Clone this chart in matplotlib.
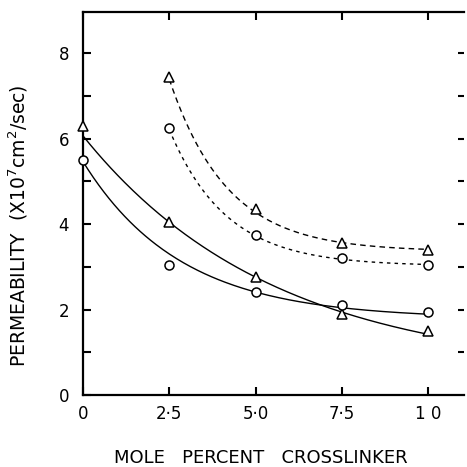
import numpy as np
import matplotlib.pyplot as plt

# Data points
crosslinker = np.array([0, 2.5, 5.0, 7.5, 10.0])
solid_tri = np.array([6.3, 4.05, 2.75, 1.9, 1.5])
solid_circ = np.array([5.5, 3.05, 2.4, 2.1, 1.95])

crosslinker_b = np.array([2.5, 5.0, 7.5, 10.0])
dashed_tri = np.array([7.45, 4.35, 3.55, 3.4])
dotted_circ = np.array([6.25, 3.75, 3.2, 3.05])

# hand-drawn trend curves
curve_x = np.array([0, 2.5, 5.0, 7.5, 10.0])
curve_tri = np.array([6.05, 4.08, 2.74, 1.9, 1.45])
curve_circ = np.array([5.45, 3.35, 2.35, 2.0, 1.95])
curve_x_b = np.array([2.5, 3.62, 5.0, 7.5, 10.0])
curve_dtri = np.array([7.4, 5.38, 4.33, 3.55, 3.4])
curve_dcirc = np.array([6.2, 4.68, 3.67, 3.2, 3.05])

xtick_vals = [0, 2.5, 5.0, 7.5, 10.0]
xtick_labels = ['0', '2·5', '5·0', '7·5', '1 0']
ytick_vals = [0, 2, 4, 6, 8]
ytick_labels = ['0', '2', '4', '6', '8']


def exp_fit(x, y):
    # least squares fit of y = a + b*exp(-c*x), grid search over c
    best = None
    for c in np.linspace(0.02, 2.0, 800):
        A = np.column_stack([np.ones_like(x), np.exp(-c * x)])
        coef, res, _, _ = np.linalg.lstsq(A, y, rcond=None)
        err = np.sum((A @ coef - y) ** 2)
        if best is None or err < best[0]:
            best = (err, coef[0], coef[1], c)
    _, a, b, c = best
    return lambda t: a + b * np.exp(-c * t)


W = 467
fig = plt.figure(figsize=(4.67, 4.67), dpi=100)
ax = fig.add_axes([83 / W, 1 - 395 / W, 381 / W, 383 / W])

mk = dict(markerfacecolor='white', markeredgecolor='black', markeredgewidth=1.1,
          linestyle='none', clip_on=False, zorder=3)

# solid curves
xs = np.linspace(0, 10, 200)
ax.plot(xs, exp_fit(curve_x, curve_tri)(xs), color='black', lw=1.0)
ax.plot(xs, exp_fit(curve_x, curve_circ)(xs), color='black', lw=1.0)
# dashed curves
xs2 = np.linspace(2.5, 10, 200)
ax.plot(xs2, exp_fit(curve_x_b, curve_dtri)(xs2), color='black', lw=1.0,
        dashes=(4, 3))
ax.plot(xs2, exp_fit(curve_x_b, curve_dcirc)(xs2), color='black', lw=1.0,
        dashes=(2.5, 3))

ax.plot(crosslinker, solid_tri, marker='^', markersize=6.5, **mk)
ax.plot(crosslinker, solid_circ, marker='o', markersize=6.5, **mk)
ax.plot(crosslinker_b, dashed_tri, marker='^', markersize=6.5, **mk)
ax.plot(crosslinker_b, dotted_circ, marker='o', markersize=6.5, **mk)

ax.set_xlim(0, 11.04)
ax.set_ylim(0, 8.96)

ax.spines['right'].set_visible(False)
for s in ['left', 'bottom', 'top']:
    ax.spines[s].set_linewidth(1.6)

ax.set_xticks(xtick_vals)
ax.set_xticklabels(xtick_labels, fontsize=12)
ax.set_yticks(ytick_vals)
ax.set_yticklabels(ytick_labels, fontsize=12)
ax.set_yticks([1, 3, 5, 7], minor=True)
ax.tick_params(axis='x', which='both', direction='in', top=True, length=6,
               width=1.5, pad=7)
ax.tick_params(axis='y', which='both', direction='in', length=6, width=1.5,
               pad=10, right=False)

# short ticks on the right side
sec = ax.secondary_yaxis('right')
sec.set_yticks([1, 2, 3, 4, 5, 6, 7, 8])
sec.set_yticklabels([])
sec.tick_params(direction='in', length=4, width=1.5)
for sp in sec.spines.values():
    sp.set_visible(False)

fig.text(18 / W, 1 - 226 / W, 'PERMEABILITY  (X10$^7$cm$^2$/sec)', rotation=90,
         ha='center', va='center', fontsize=13.5)
fig.text(261 / W, 1 - 458 / W, 'MOLE   PERCENT   CROSSLINKER', ha='center',
         va='center', fontsize=13)

fig.savefig('out.png', dpi=100)
plt.close()
